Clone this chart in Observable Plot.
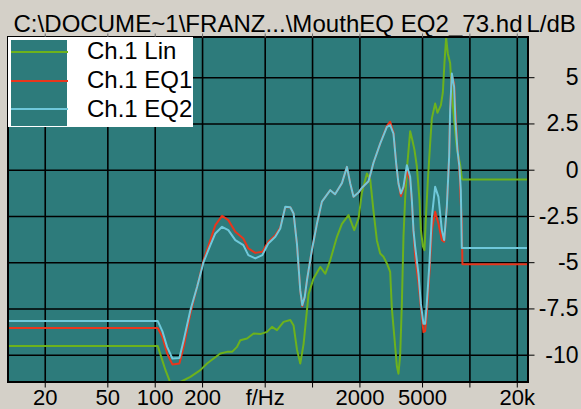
<!DOCTYPE html>
<html>
<head>
<meta charset="utf-8">
<script src="https://cdn.jsdelivr.net/npm/d3@7"></script>
<script src="https://cdn.jsdelivr.net/npm/@observablehq/plot@0.6"></script>
<style>
  html, body { margin: 0; padding: 0; background: #D4D0C8; }
  body { width: 581px; height: 409px; overflow: hidden; font-family: Arial, "Liberation Sans", sans-serif; color: #000; }
  #wrap { position: relative; width: 581px; height: 409px; }
  #title { position: absolute; left: 13.5px; top: 12px; font-size: 24px; line-height: 24px; letter-spacing: 0.04px; white-space: nowrap; }
  #unit { position: absolute; left: 526.5px; top: 12px; font-size: 24px; line-height: 24px; white-space: nowrap; }
  #chart { position: absolute; left: 0; top: 30px; }
  #legend { position: absolute; left: 7.5px; top: 36.5px; width: 185.5px; height: 90px; background: #fff; }
  #swatch { position: absolute; left: 3.5px; top: 3px; width: 56px; height: 86px; }
  .lg-line { position: absolute; left: 3.5px; width: 56.5px; height: 2px; }
  .lg-text { position: absolute; left: 79.5px; font-size: 24px; line-height: 24px; white-space: nowrap; }
</style>
</head>
<body>
<div id="wrap">
  <div id="title"></div>
  <div id="unit"></div>
  <div id="chart"></div>
  <div id="legend"><div id="swatch"></div></div>
</div>
<script>
// ---- text ----
const titleText = "C:\\DOCUME~1\\FRANZ...\\MouthEQ EQ2_73.hd";
const unitText = "L/dB";
const seriesNames = ["Ch.1 Lin", "Ch.1 EQ1", "Ch.1 EQ2"];
const seriesColors = ["#6DB21C", "#E8361C", "#6FC8DA"];
const plotBg = "#2D7B7B";

// ---- axes ----
const xTicks = [20, 50, 100, 200, 500, 1000, 2000, 5000, 10000, 20000];
const xTickLabels = ["20", "50", "100", "200", "f/Hz", "", "2000", "5000", "", "20k"];
const yTicks = [5, 2.5, 0, -2.5, -5, -7.5, -10];
const yTickLabels = ["5", "2.5", "0", "-2.5", "-5", "-7.5", "-10"];
const xDomain = [11.6, 23400];
const yDomain = [-11.45, 7.2];

// ---- Ch.1 Lin (Hz, dB) ----
const freqLin = [11.6, 103.7, 116.1, 124.9, 138.4, 144.5, 167.3, 193.6, 213.6, 235.1, 259.4, 286.1, 307.8, 331.1, 347.5, 383.3, 422.1, 465.5, 513.3, 552.5, 594.3, 654.5, 721.9, 757.7, 796.2, 835.3, 876.8, 943.2, 1015, 1119, 1204, 1296, 1429, 1537, 1693, 1840, 1960, 2060, 2215, 2324, 2439, 2564, 2690, 2824, 2968, 3114, 3193, 3302, 3435, 3516, 3604, 3695, 3783, 3878, 4010, 4172, 4315, 4443, 4602, 4780, 4879, 5023, 5142, 5271, 5404, 5589, 5730, 6012, 6218, 6536, 6730, 6890, 7063, 7241, 7488, 7677, 7939, 8259, 8668, 8886, 8964, 23400];
const dbLin = [-9.5, -9.5, -10.8, -11.5, -12.2, -11.45, -11.17, -10.81, -10.45, -10.18, -9.91, -9.82, -9.82, -9.55, -9.19, -9.1, -8.83, -8.86, -8.74, -8.47, -8.65, -8.2, -8.1, -8.4, -9.7, -10.45, -9.4, -6.7, -5.85, -5.23, -5.6, -4.86, -3.6, -2.9, -2.43, -3.24, -2.6, -1.2, -0.18, -0.5, -2.2, -3.8, -4.5, -4.68, -5.04, -5.5, -7.5, -8.9, -10.6, -11.0, -10.0, -7.2, -3.6, -1.5, 0.4, 2.1, 1.6, 1.1, 0.2, -1.6, -3.2, -4.1, -4.32, -2.3, -0.55, 1.44, 2.8, 3.6, 3.1, 3.5, 4.2, 5.8, 7.15, 6.3, 5.8, 4.2, 2.7, 1.2, 0.3, -0.45, -0.5, -0.5];

// ---- Ch.1 EQ1 / EQ2 (Hz, dB) ----
const freqEQ = [11.6, 103.7, 111, 119, 128.6, 142.5, 151.7, 167.3, 184.5, 203.2, 224.1, 241.1, 265.9, 291.5, 323, 363.1, 390.6, 432.7, 479.4, 523.2, 579.7, 623.4, 670.9, 721.9, 757.7, 796.2, 835.3, 860.2, 892, 921.4, 991.3, 1066, 1147, 1296, 1390, 1537, 1654, 1736, 1821, 1960, 2060, 2268, 2439, 2690, 2968, 3114, 3268, 3400, 3516, 3642, 3783, 3975, 4172, 4277, 4379, 4489, 4710, 4879, 5068, 5195, 5325, 5533, 5730, 6012, 6310, 6633, 6860, 7135, 7379, 7488, 7677, 7939, 8090, 8331, 8578, 8756, 8886, 8964, 23400];
const dbEQ1 = [-8.53, -8.53, -9.0, -9.9, -10.5, -10.45, -9.55, -7.75, -6.31, -4.86, -3.78, -2.97, -2.47, -2.7, -3.33, -3.69, -4.23, -4.47, -4.41, -3.87, -3.51, -3.1, -2.0, -2.0, -2.34, -4.0, -6.5, -7.35, -6.85, -5.95, -4.3, -2.9, -1.7, -1.08, -1.3, -0.7, 0.18, -0.72, -1.44, -1.2, -0.95, -0.6, 0.4, 1.44, 2.4, 2.62, 2.05, 0.36, -0.72, -1.4, -1.0, 0.0, -0.6, -1.7, -3.3, -4.68, -6.1, -7.4, -8.75, -8.7, -7.75, -5.5, -3.24, -2.25, -2.88, -3.78, -3.87, -1.98, 0.72, 3.24, 5.14, 4.68, 3.24, 1.26, 0.0, -1.8, -2.8, -5.08, -5.08];
const dbEQ2 = [-8.15, -8.15, -8.7, -9.55, -10.18, -10.15, -9.19, -7.57, -6.31, -4.95, -4.05, -3.42, -3.06, -3.24, -3.78, -4.05, -4.59, -4.77, -4.59, -3.96, -3.6, -3.15, -1.98, -2.0, -2.34, -4.0, -6.5, -7.3, -6.85, -5.95, -4.3, -2.9, -1.7, -1.08, -1.3, -0.7, 0.18, -0.72, -1.44, -1.2, -0.95, -0.6, 0.4, 1.44, 2.34, 2.43, 1.98, 0.36, -0.72, -1.26, -0.9, 0.27, -0.36, -1.62, -3.24, -4.14, -5.6, -7.2, -8.3, -8.3, -7.2, -5.04, -2.52, -0.9, -1.44, -3.24, -3.78, -1.98, 0.72, 3.24, 5.23, 4.5, 2.7, 1.1, 0.18, -1.08, -4.2, -4.2, -4.2];

// ---- build tables ----
const lin = freqLin.map((f, i) => ({f, db: dbLin[i]}));
const eq1 = freqEQ.map((f, i) => ({f, db: dbEQ1[i]}));
const eq2 = freqEQ.map((f, i) => ({f, db: dbEQ2[i]}));
const series = [lin, eq1, eq2];
const xLabelMap = new Map(xTicks.map((t, i) => [t, xTickLabels[i]]));
const yLabelMap = new Map(yTicks.map((t, i) => [t, yTickLabels[i]]));

document.getElementById("title").textContent = titleText;
document.getElementById("unit").textContent = unitText;

const chart = Plot.plot({
  width: 581,
  height: 379,
  marginLeft: 7.5,
  marginRight: 53.5,
  marginTop: 6.5,
  marginBottom: 27.5,
  x: {type: "log", domain: xDomain},
  y: {domain: yDomain},
  style: {background: "transparent", fontFamily: "Arial, 'Liberation Sans', sans-serif", color: "#000", overflow: "visible"},
  marks: [
    Plot.frame({fill: plotBg, stroke: null}),
    Plot.ruleX(xTicks, {stroke: "#000", strokeWidth: 1.6}),
    Plot.ruleY(yTicks, {stroke: "#000", strokeWidth: 1.6}),
    ...series.map((s, i) => Plot.line(s, {x: "f", y: "db", stroke: seriesColors[i], strokeWidth: 2, clip: true})),
    Plot.frame({stroke: "#000", strokeWidth: 2}),
    Plot.axisX({anchor: "bottom", ticks: xTicks, tickSize: 6, tickFormat: () => "", label: null, stroke: "#000"}),
    Plot.text(xTicks, {x: d => d, text: d => xLabelMap.get(d), frameAnchor: "bottom", lineAnchor: "top", dy: 7.5, fontSize: 22, fill: "#000"}),
    Plot.axisX({anchor: "top", ticks: xTicks, tickSize: 4, tickFormat: () => "", label: null, stroke: "#6a6a6a"}),
    Plot.axisY({anchor: "right", ticks: yTicks, tickSize: 6, tickPadding: 44.5, textAnchor: "end", tickFormat: d => yLabelMap.get(d), fontSize: 23, label: null, stroke: "#000"})
  ]
});
document.getElementById("chart").appendChild(chart);

// ---- legend ----
const legend = document.getElementById("legend");
document.getElementById("swatch").style.background = plotBg;
const lineTops = [14.5, 43.2, 71.8];
const textTops = [2.5, 31.5, 60.5];
seriesNames.forEach((name, i) => {
  const ln = document.createElement("div");
  ln.className = "lg-line";
  ln.style.top = lineTops[i] + "px";
  ln.style.background = seriesColors[i];
  legend.appendChild(ln);
  const tx = document.createElement("div");
  tx.className = "lg-text";
  tx.style.top = textTops[i] + "px";
  tx.textContent = name;
  legend.appendChild(tx);
});
</script>
</body>
</html>
